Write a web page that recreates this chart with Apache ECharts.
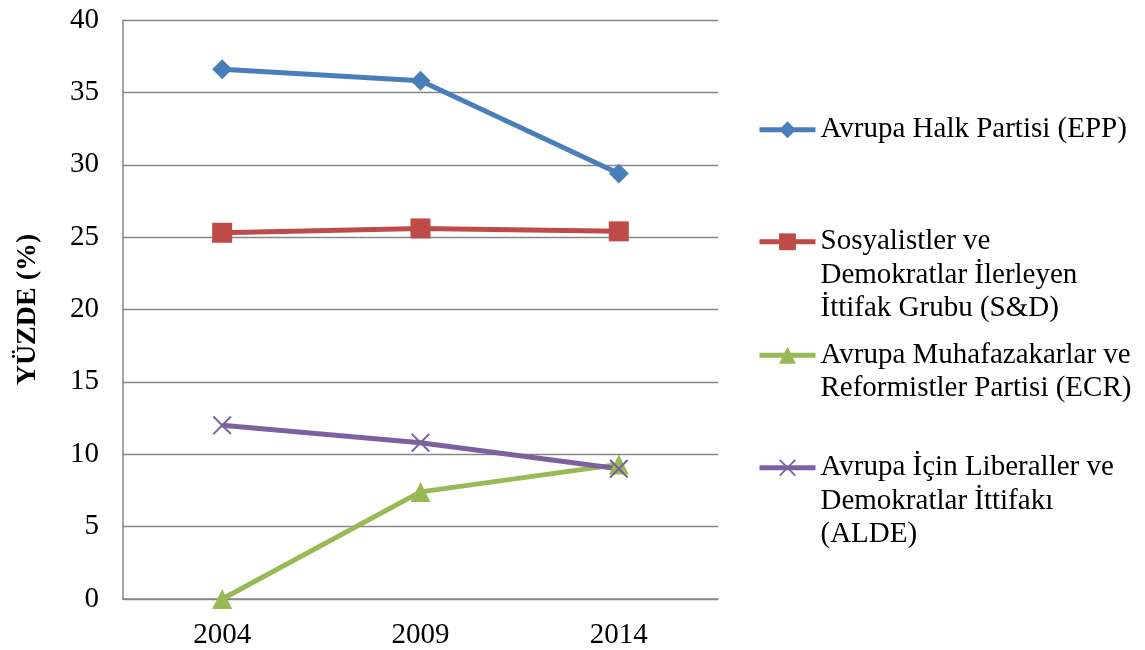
<!DOCTYPE html>
<html>
<head>
<meta charset="utf-8">
<script src="https://cdn.jsdelivr.net/npm/echarts@6/dist/echarts.min.js"></script>
<style>
  html, body { margin: 0; padding: 0; background: #fff; }
  #chart { width: 1145px; height: 650px; }
</style>
</head>
<body>
<div id="chart"></div>
<script>
var years = ['2004', '2009', '2014'];
var eppValues = [36.6, 35.8, 29.4];
var sdValues = [25.3, 25.6, 25.4];
var ecrValues = [0, 7.4, 9.3];
var aldeValues = [12.0, 10.8, 9.0];
var seriesNames = [
  'Avrupa Halk Partisi (EPP)',
  'Sosyalistler ve\nDemokratlar İlerleyen\nİttifak Grubu (S&D)',
  'Avrupa Muhafazakarlar ve\nReformistler Partisi (ECR)',
  'Avrupa İçin Liberaller ve\nDemokratlar İttifakı\n(ALDE)'
];

(function() {
  var font = 'Liberation Serif, Times New Roman, serif';
  var lh = 33.5;
  var xPath = 'path://M1.5,0L10,8.5L18.5,0L20,1.5L11.5,10L20,18.5L18.5,20L10,11.5L1.5,20L0,18.5L8.5,10L0,1.5Z';

  // legend text is centred on the icon, so pad with blank lines above
  // to keep the icon level with the first line
  function legendFor(name, top) {
    return {
      data: [name],
      orient: 'vertical',
      left: 757,
      top: top,
      padding: 0,
      itemWidth: 56,
      itemHeight: 21,
      selectedMode: false,
      lineStyle: { width: 5 },
      formatter: function(n) {
        var lines = n.split('\n');
        var pad = [];
        for (var i = 1; i < lines.length; i++) pad.push(' ');
        return pad.concat(lines).join('\n');
      },
      textStyle: { fontFamily: font, fontSize: 29, color: '#000', lineHeight: lh }
    };
  }

  var chart = echarts.init(document.getElementById('chart'), null, { renderer: 'canvas' });
  chart.setOption({
    animation: false,
    backgroundColor: '#fff',
    grid: { left: 123, right: 427, top: 20, bottom: 51 },
    legend: [
      legendFor(seriesNames[0], 113),
      legendFor(seriesNames[1], 158),
      legendFor(seriesNames[2], 305),
      legendFor(seriesNames[3], 384)
    ],
    xAxis: {
      type: 'category',
      data: years,
      boundaryGap: true,
      axisTick: { show: false },
      axisLine: { lineStyle: { color: '#868686', width: 1.5 } },
      axisLabel: { color: '#000', fontFamily: font, fontSize: 29, margin: 22 }
    },
    yAxis: {
      type: 'value',
      min: 0, max: 40, interval: 5,
      name: 'YÜZDE (%)',
      nameLocation: 'middle',
      nameGap: 81,
      nameTextStyle: { fontFamily: font, fontSize: 28, fontWeight: 'bold', color: '#000' },
      axisLine: { show: true, lineStyle: { color: '#868686', width: 1.5 } },
      axisTick: { show: false },
      axisLabel: { color: '#000', fontFamily: font, fontSize: 29, margin: 24 },
      splitLine: { lineStyle: { color: '#868686', width: 1.3 } }
    },
    series: [
      { name: seriesNames[0], type: 'line', data: eppValues, symbol: 'diamond', symbolSize: 20,
        lineStyle: { color: '#4a7ebb', width: 5 }, itemStyle: { color: '#4a7ebb' } },
      { name: seriesNames[1], type: 'line', data: sdValues, symbol: 'rect', symbolSize: 20,
        lineStyle: { color: '#be4b48', width: 5 }, itemStyle: { color: '#be4b48' } },
      { name: seriesNames[2], type: 'line', data: ecrValues, symbol: 'triangle', symbolSize: 20,
        lineStyle: { color: '#98b954', width: 5 }, itemStyle: { color: '#98b954' } },
      { name: seriesNames[3], type: 'line', data: aldeValues, symbol: xPath, symbolSize: 19,
        lineStyle: { color: '#7d60a0', width: 5 }, itemStyle: { color: '#7d60a0' } }
    ]
  });
  window.addEventListener('resize', function() { chart.resize(); });
})();
</script>
</body>
</html>
